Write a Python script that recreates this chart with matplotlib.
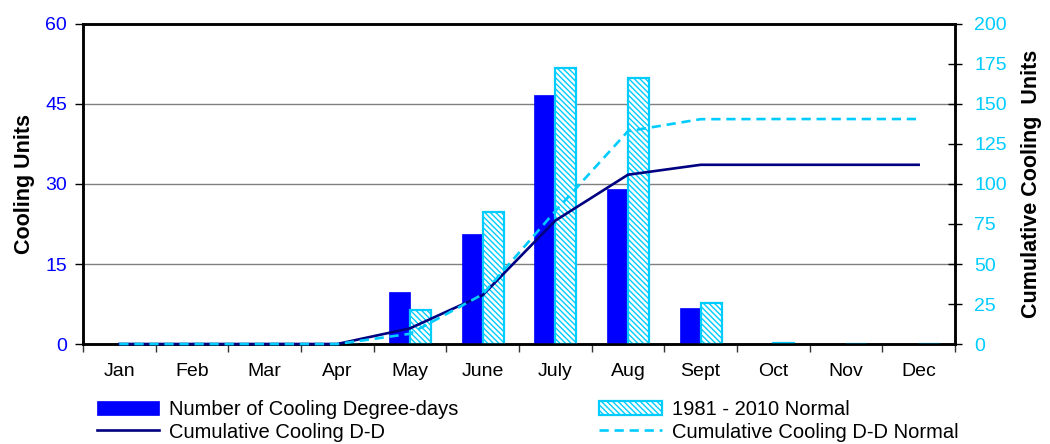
import numpy as np
import matplotlib
matplotlib.use("Agg")
import matplotlib.pyplot as plt

plt.rcParams['font.family'] = ['Liberation Sans', 'DejaVu Sans']
plt.rcParams['hatch.linewidth'] = 1.0

months = ["Jan", "Feb", "Mar", "Apr", "May", "June", "July", "Aug", "Sept", "Oct", "Nov", "Dec"]
cdd = [0, 0, 0, 0, 9.8, 20.7, 46.6, 29.1, 6.8, 0, 0, 0]
cdd_normal = [0, 0, 0, 0, 6.4, 24.8, 51.8, 49.8, 7.6, 0.2, 0, 0]
cum_cdd = [0, 0, 0, 0, 9.8, 30.5, 77.1, 105.8, 112, 112, 112, 112]
cum_normal = [0, 0, 0, 0, 6.4, 31.0, 83.0, 133.0, 140.5, 140.6, 140.6, 140.6]

blue = "#0000FF"
cyan = "#00CCFF"
navy = "#000080"

fig = plt.figure(figsize=(10.5, 4.44), dpi=100)
ax = fig.add_axes([0.079, 0.2252, 0.8305, 0.7208])
x = np.arange(len(months))
w = 0.29

b1 = ax.bar(x - w / 2, cdd, w, color=blue, edgecolor=blue, linewidth=0.5, zorder=3,
            label="Number of Cooling Degree-days")
b2 = ax.bar(x + w / 2, cdd_normal, w, color="white", edgecolor=cyan, linewidth=1.6,
            hatch="\\\\\\\\\\\\", zorder=3, label="1981 - 2010 Normal")

ax.set_xlim(-0.5, 11.5)
ax.set_ylim(0, 60)
ax.set_yticks([0, 15, 30, 45, 60])
ax.yaxis.grid(True, color="#808080", linewidth=1.0, zorder=0)
ax.set_xticks(np.arange(-0.5, 12, 1))
ax.set_xticklabels([])
ax.set_xticks(x, minor=True)
ax.set_xticklabels(months, minor=True)
ax.tick_params(axis="x", which="major", direction="out", length=6, width=1, color="#333333")
ax.tick_params(axis="x", which="minor", length=0, pad=14, labelsize=14)
ax.tick_params(axis="y", direction="out", length=6, width=1, labelcolor=blue, labelsize=14, pad=5.5)
ax.set_ylabel("Cooling Units", fontsize=15.5, fontweight="bold", labelpad=7)
for s in ax.spines.values():
    s.set_linewidth(1.8)

ax2 = ax.twinx()
ax2.set_ylim(0, 200)
ax2.set_yticks(np.arange(0, 201, 25))
ax2.tick_params(axis="y", direction="inout", length=10, width=1, labelcolor=cyan, labelsize=14, pad=9)
l1, = ax2.plot(x, cum_cdd, color=navy, linewidth=1.9, zorder=5, clip_on=False,
               label="Cumulative Cooling D-D")
l2, = ax2.plot(x, cum_normal, color=cyan, linewidth=1.9, dashes=(3.5, 2.2), zorder=6, clip_on=False,
               label="Cumulative Cooling D-D Normal")
ax2.set_ylabel("Cumulative Cooling  Units", fontsize=15.5, fontweight="bold", labelpad=10)
for s in ax2.spines.values():
    s.set_linewidth(1.8)

fig.legend([b1, l1, b2, l2],
           [b1.get_label(), l1.get_label(), b2.get_label(), l2.get_label()],
           loc="upper left", bbox_to_anchor=(0.092, 0.098), ncol=2, frameon=False,
           fontsize=14.5, handlelength=3.1, handletextpad=0.5, columnspacing=7.0,
           labelspacing=0.15, borderpad=0, borderaxespad=0)

fig.savefig("out.png", dpi=100)
